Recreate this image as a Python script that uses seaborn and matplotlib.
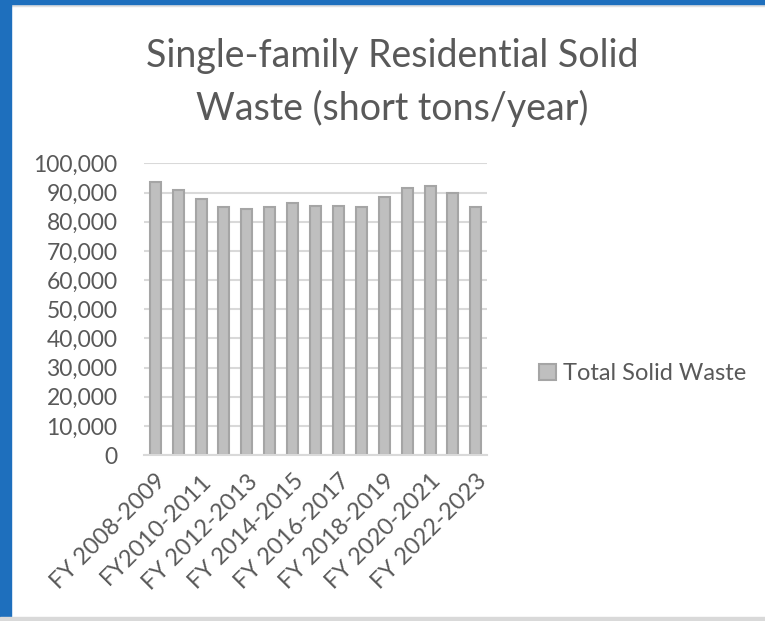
import numpy as np
import pandas as pd
import seaborn as sns
import matplotlib.pyplot as plt
from matplotlib.patches import Rectangle, Patch

# --- Data: single-family residential solid waste (short tons / year) ---
years = ['FY 2008-2009', 'FY 2009-2010', 'FY2010-2011', 'FY 2011-2012',
         'FY 2012-2013', 'FY 2013-2014', 'FY 2014-2015', 'FY 2015-2016',
         'FY 2016-2017', 'FY 2017-2018', 'FY 2018-2019', 'FY 2019-2020',
         'FY 2020-2021', 'FY 2021-2022', 'FY 2022-2023']
total_waste = [93700, 90900, 87900, 84900, 84500, 84900, 86400, 85500,
               85500, 84900, 88400, 91600, 92200, 89700, 84900]
shown_labels = ['FY 2008-2009', 'FY2010-2011', 'FY 2012-2013', 'FY 2014-2015',
                'FY 2016-2017', 'FY 2018-2019', 'FY 2020-2021', 'FY 2022-2023']

df = pd.DataFrame({'year': years, 'waste': total_waste})

# --- Plotting ---
sns.set_style('white')
plt.rcParams['font.family'] = ['Lato', 'DejaVu Sans']
text_grey = '#595959'

fig = plt.figure(figsize=(7.65, 6.21), dpi=100)
ax = fig.add_axes([0.188, 0.267, 0.449, 0.470])

sns.barplot(data=df, x='year', y='waste', color='#bfbfbf', width=0.48,
            edgecolor='#a5a5a5', linewidth=1.5, saturation=1, ax=ax)

ax.set_ylim(0, 100000)
ax.set_yticks(np.arange(0, 100001, 10000))
ax.set_yticklabels([f'{v:,}' for v in range(0, 100001, 10000)],
                   fontsize=16.5, color=text_grey)
ax.set_xticks(range(0, len(years), 2))
ax.set_xticklabels(shown_labels, rotation=45, ha='right',
                   rotation_mode='anchor', fontsize=17, color=text_grey)
ax.tick_params(axis='y', length=0, pad=19)
ax.tick_params(axis='x', length=0, pad=11)
ax.set_xlabel('')
ax.set_ylabel('')
ax.set_axisbelow(True)
ax.yaxis.grid(True, color='#d9d9d9', linewidth=1.5)
for s in ['top', 'right', 'left']:
    ax.spines[s].set_visible(False)
ax.spines['bottom'].set_color('#d9d9d9')
ax.spines['bottom'].set_linewidth(1.5)

fig.text(0.513, 0.867, 'Single-family Residential Solid\nWaste (short tons/year)',
         ha='center', va='center', fontsize=27, color=text_grey, linespacing=1.55)

handle = Patch(facecolor='#bfbfbf', edgecolor='#a5a5a5', linewidth=1.5)
fig.legend([handle], ['Total Solid Waste'], loc='center left',
           bbox_to_anchor=(0.677, 0.398), frameon=False, fontsize=17,
           labelcolor=text_grey, handlelength=0.7, handleheight=0.7,
           handletextpad=0.3)

# window frame: blue strip on the left/top, grey edges
fig.patches.append(Rectangle((0, 1 - 6 / 621), 1, 2 / 621, transform=fig.transFigure,
                             color='#e0e0e0', zorder=9))
fig.patches.append(Rectangle((0, 0), 11 / 765, 1, transform=fig.transFigure,
                             color='#1e6fbd', zorder=10))
fig.patches.append(Rectangle((0, 1 - 4 / 621), 1, 4 / 621, transform=fig.transFigure,
                             color='#1e6fbd', zorder=10))
fig.patches.append(Rectangle((0, 0), 1, 4 / 621, transform=fig.transFigure,
                             color='#d9d9d9', zorder=10))

fig.savefig('out.png', dpi=100)
